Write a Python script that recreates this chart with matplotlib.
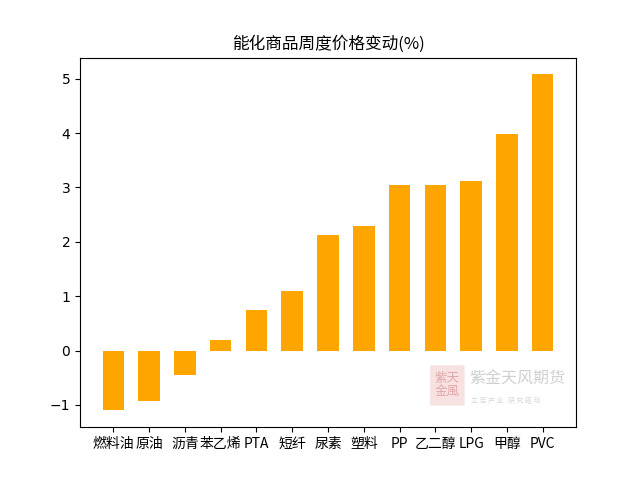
import matplotlib
matplotlib.use('Agg')
import matplotlib.pyplot as plt
import matplotlib.patches as mpatches

plt.rcParams['font.family'] = ['Noto Sans CJK SC', 'DejaVu Sans']
plt.rcParams['axes.unicode_minus'] = True

categories = ['燃料油', '原油', '沥青', '苯乙烯', 'PTA', '短纤', '尿素', '塑料',
              'PP', '乙二醇', 'LPG', '甲醇', 'PVC']
changes = [-1.10, -0.92, -0.45, 0.20, 0.74, 1.09, 2.12, 2.29,
           3.04, 3.04, 3.12, 3.99, 5.08]

fig, ax = plt.subplots(figsize=(6.4, 4.8), dpi=100)
ax.bar(categories, changes, width=0.6, color='#FFA500')
ax.set_title('能化商品周度价格变动(%)', fontsize=12)
for lab in ax.get_yticklabels():
    lab.set_family('DejaVu Sans')

# watermark
logo = mpatches.FancyBboxPatch((0.675, 0.158), 0.048, 0.078, transform=fig.transFigure,
                               boxstyle='round,pad=0.003', facecolor='#f5dada',
                               edgecolor='none', alpha=0.8)
fig.patches.append(logo)
fig.text(0.699, 0.197, '紫天\n金風', fontsize=9, color='#e2a8a8', ha='center', va='center',
         linespacing=1.0)
fig.text(0.733, 0.21, '紫金天风期货', fontsize=11.5, color='#d0d0d0', ha='left', va='center')
fig.text(0.736, 0.165, '立 足 产 业   研 究 驱 动', fontsize=5, color='#d8d8d8', ha='left', va='center')

plt.savefig('out.png', dpi=100)
